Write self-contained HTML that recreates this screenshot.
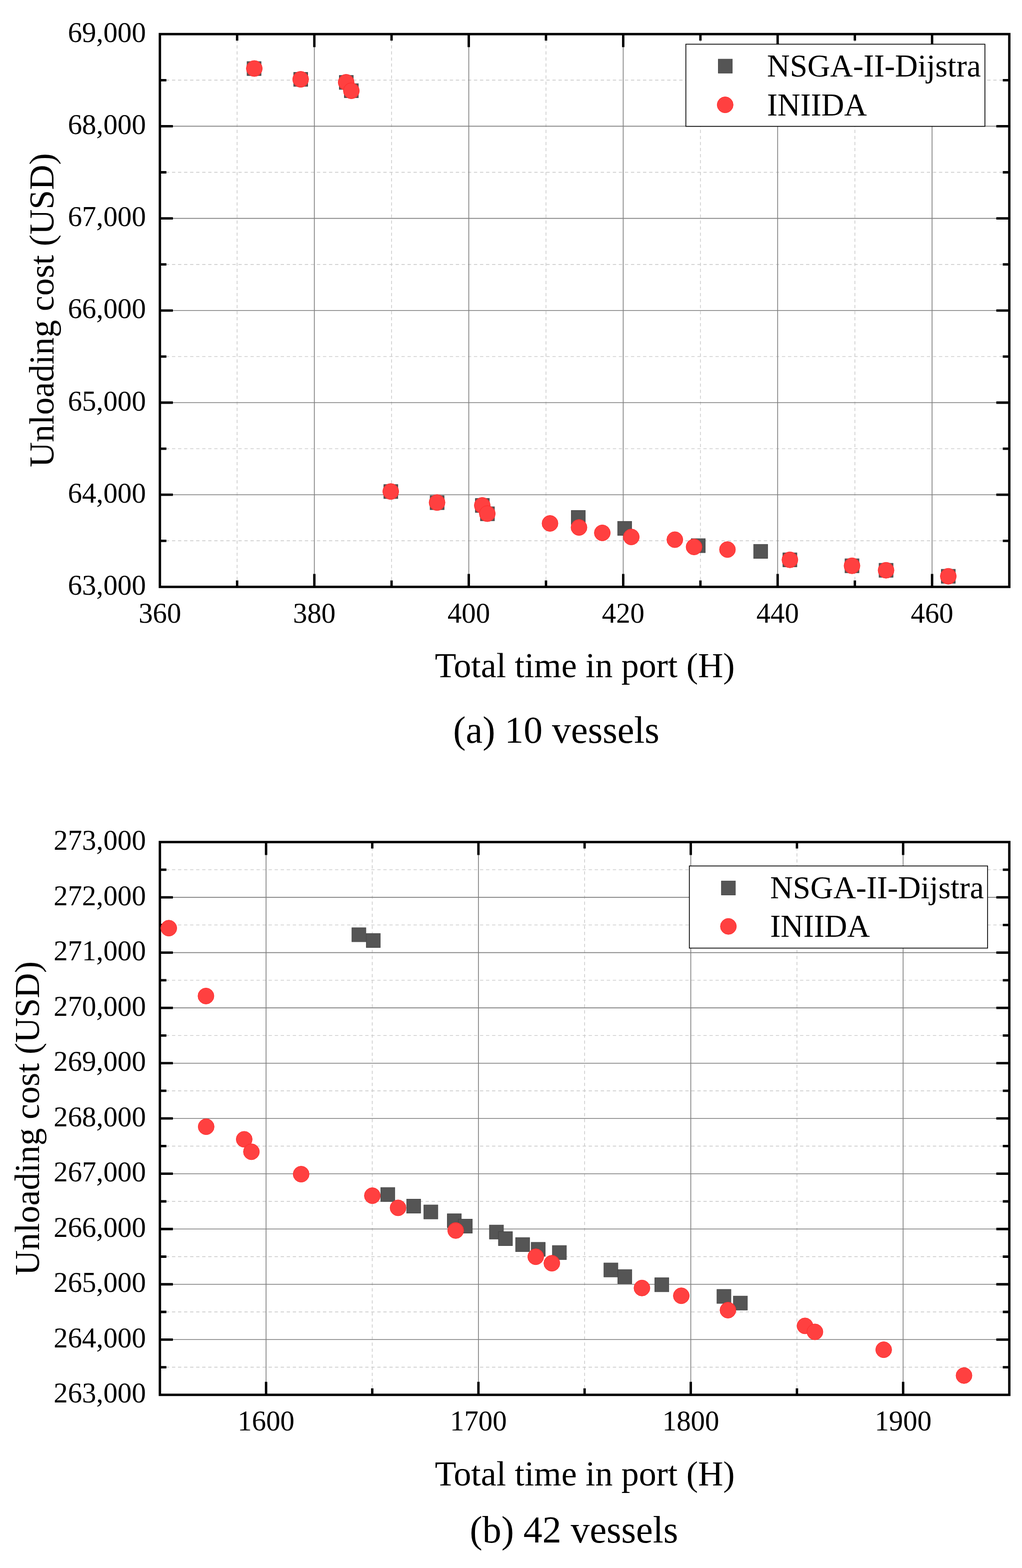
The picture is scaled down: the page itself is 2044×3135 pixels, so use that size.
<!DOCTYPE html>
<html><head><meta charset="utf-8"><title>Pareto fronts</title><style>
html,body{margin:0;padding:0;background:#fff;}
svg{display:block;}
text{font-family:'Liberation Serif', 'Times New Roman', serif;fill:#000;}
.tk{font-size:56.8px;}
.lg{font-size:63.1px;}
.at{font-size:69.8px;}
.cap{font-size:75.8px;}
</style></head><body>
<svg width="2044" height="3135" viewBox="0 0 2044 3135">
<rect width="2044" height="3135" fill="#fff"/>
<line x1="474.24" y1="68.2" x2="474.24" y2="1173.4" stroke="#c8c8c8" stroke-width="1.4" stroke-dasharray="6.5 5.578" stroke-dashoffset="1.88"/>
<line x1="783.11" y1="68.2" x2="783.11" y2="1173.4" stroke="#c8c8c8" stroke-width="1.4" stroke-dasharray="6.5 5.578" stroke-dashoffset="1.88"/>
<line x1="1091.98" y1="68.2" x2="1091.98" y2="1173.4" stroke="#c8c8c8" stroke-width="1.4" stroke-dasharray="6.5 5.578" stroke-dashoffset="1.88"/>
<line x1="1400.85" y1="68.2" x2="1400.85" y2="1173.4" stroke="#c8c8c8" stroke-width="1.4" stroke-dasharray="6.5 5.578" stroke-dashoffset="1.88"/>
<line x1="1709.73" y1="68.2" x2="1709.73" y2="1173.4" stroke="#c8c8c8" stroke-width="1.4" stroke-dasharray="6.5 5.578" stroke-dashoffset="1.88"/>
<line x1="319.8" y1="1081.3" x2="2018.6" y2="1081.3" stroke="#c8c8c8" stroke-width="1.4" stroke-dasharray="6.6 5.478"/>
<line x1="319.8" y1="897.1" x2="2018.6" y2="897.1" stroke="#c8c8c8" stroke-width="1.4" stroke-dasharray="6.6 5.478"/>
<line x1="319.8" y1="712.9" x2="2018.6" y2="712.9" stroke="#c8c8c8" stroke-width="1.4" stroke-dasharray="6.6 5.478"/>
<line x1="319.8" y1="528.7" x2="2018.6" y2="528.7" stroke="#c8c8c8" stroke-width="1.4" stroke-dasharray="6.6 5.478"/>
<line x1="319.8" y1="344.5" x2="2018.6" y2="344.5" stroke="#c8c8c8" stroke-width="1.4" stroke-dasharray="6.6 5.478"/>
<line x1="319.8" y1="160.3" x2="2018.6" y2="160.3" stroke="#c8c8c8" stroke-width="1.4" stroke-dasharray="6.6 5.478"/>
<line x1="628.67" y1="68.2" x2="628.67" y2="1173.4" stroke="#808080" stroke-width="1.6"/>
<line x1="937.55" y1="68.2" x2="937.55" y2="1173.4" stroke="#808080" stroke-width="1.6"/>
<line x1="1246.42" y1="68.2" x2="1246.42" y2="1173.4" stroke="#808080" stroke-width="1.6"/>
<line x1="1555.29" y1="68.2" x2="1555.29" y2="1173.4" stroke="#808080" stroke-width="1.6"/>
<line x1="1864.16" y1="68.2" x2="1864.16" y2="1173.4" stroke="#808080" stroke-width="1.6"/>
<line x1="319.8" y1="989.2" x2="2018.6" y2="989.2" stroke="#808080" stroke-width="1.6"/>
<line x1="319.8" y1="805" x2="2018.6" y2="805" stroke="#808080" stroke-width="1.6"/>
<line x1="319.8" y1="620.8" x2="2018.6" y2="620.8" stroke="#808080" stroke-width="1.6"/>
<line x1="319.8" y1="436.6" x2="2018.6" y2="436.6" stroke="#808080" stroke-width="1.6"/>
<line x1="319.8" y1="252.4" x2="2018.6" y2="252.4" stroke="#808080" stroke-width="1.6"/>
<path d="M474.24 68.2V81.2M474.24 1173.4V1160.4M628.67 68.2V94.2M628.67 1173.4V1147.4M783.11 68.2V81.2M783.11 1173.4V1160.4M937.55 68.2V94.2M937.55 1173.4V1147.4M1091.98 68.2V81.2M1091.98 1173.4V1160.4M1246.42 68.2V94.2M1246.42 1173.4V1147.4M1400.85 68.2V81.2M1400.85 1173.4V1160.4M1555.29 68.2V94.2M1555.29 1173.4V1147.4M1709.73 68.2V81.2M1709.73 1173.4V1160.4M1864.16 68.2V94.2M1864.16 1173.4V1147.4M319.8 1081.3H332.8M2018.6 1081.3H2005.6M319.8 989.2H345.8M2018.6 989.2H1992.6M319.8 897.1H332.8M2018.6 897.1H2005.6M319.8 805H345.8M2018.6 805H1992.6M319.8 712.9H332.8M2018.6 712.9H2005.6M319.8 620.8H345.8M2018.6 620.8H1992.6M319.8 528.7H332.8M2018.6 528.7H2005.6M319.8 436.6H345.8M2018.6 436.6H1992.6M319.8 344.5H332.8M2018.6 344.5H2005.6M319.8 252.4H345.8M2018.6 252.4H1992.6M319.8 160.3H332.8M2018.6 160.3H2005.6" stroke="#000" stroke-width="4.8" fill="none"/>
<rect x="319.8" y="68.2" width="1698.8" height="1105.2" fill="none" stroke="#000" stroke-width="4.8"/>
<rect x="494.1" y="123.1" width="28" height="28" fill="#555555" stroke="#444444" stroke-width="1"/>
<rect x="587.4" y="144.7" width="28" height="28" fill="#555555" stroke="#444444" stroke-width="1"/>
<rect x="678.6" y="150.8" width="28" height="28" fill="#555555" stroke="#444444" stroke-width="1"/>
<rect x="688.7" y="167.3" width="28" height="28" fill="#555555" stroke="#444444" stroke-width="1"/>
<rect x="767.7" y="968.8" width="28" height="28" fill="#555555" stroke="#444444" stroke-width="1"/>
<rect x="860.2" y="991" width="28" height="28" fill="#555555" stroke="#444444" stroke-width="1"/>
<rect x="950.7" y="996.6" width="28" height="28" fill="#555555" stroke="#444444" stroke-width="1"/>
<rect x="960.9" y="1013.2" width="28" height="28" fill="#555555" stroke="#444444" stroke-width="1"/>
<rect x="1142.6" y="1020.6" width="28" height="28" fill="#555555" stroke="#444444" stroke-width="1"/>
<rect x="1235.3" y="1042.4" width="28" height="28" fill="#555555" stroke="#444444" stroke-width="1"/>
<rect x="1382.5" y="1077" width="28" height="28" fill="#555555" stroke="#444444" stroke-width="1"/>
<rect x="1507.3" y="1088.4" width="28" height="28" fill="#555555" stroke="#444444" stroke-width="1"/>
<rect x="1565.8" y="1105.3" width="28" height="28" fill="#555555" stroke="#444444" stroke-width="1"/>
<rect x="1690" y="1117.2" width="28" height="28" fill="#555555" stroke="#444444" stroke-width="1"/>
<rect x="1758.1" y="1126.2" width="28" height="28" fill="#555555" stroke="#444444" stroke-width="1"/>
<rect x="1882.6" y="1138.2" width="28" height="28" fill="#555555" stroke="#444444" stroke-width="1"/>
<circle cx="508.6" cy="137" r="16" fill="#ff4040" stroke="#ff2a2a" stroke-width="1"/>
<circle cx="601.3" cy="158.6" r="16" fill="#ff4040" stroke="#ff2a2a" stroke-width="1"/>
<circle cx="692.3" cy="164.5" r="16" fill="#ff4040" stroke="#ff2a2a" stroke-width="1"/>
<circle cx="702.7" cy="181.5" r="16" fill="#ff4040" stroke="#ff2a2a" stroke-width="1"/>
<circle cx="781.5" cy="982.7" r="16" fill="#ff4040" stroke="#ff2a2a" stroke-width="1"/>
<circle cx="874.1" cy="1004.8" r="16" fill="#ff4040" stroke="#ff2a2a" stroke-width="1"/>
<circle cx="964.5" cy="1010.5" r="16" fill="#ff4040" stroke="#ff2a2a" stroke-width="1"/>
<circle cx="974.6" cy="1027" r="16" fill="#ff4040" stroke="#ff2a2a" stroke-width="1"/>
<circle cx="1100" cy="1046.5" r="16" fill="#ff4040" stroke="#ff2a2a" stroke-width="1"/>
<circle cx="1158" cy="1054.6" r="16" fill="#ff4040" stroke="#ff2a2a" stroke-width="1"/>
<circle cx="1204.6" cy="1065.4" r="16" fill="#ff4040" stroke="#ff2a2a" stroke-width="1"/>
<circle cx="1262.6" cy="1073.6" r="16" fill="#ff4040" stroke="#ff2a2a" stroke-width="1"/>
<circle cx="1349.7" cy="1079" r="16" fill="#ff4040" stroke="#ff2a2a" stroke-width="1"/>
<circle cx="1388.1" cy="1093.5" r="16" fill="#ff4040" stroke="#ff2a2a" stroke-width="1"/>
<circle cx="1454.9" cy="1098.8" r="16" fill="#ff4040" stroke="#ff2a2a" stroke-width="1"/>
<circle cx="1579.8" cy="1119.3" r="16" fill="#ff4040" stroke="#ff2a2a" stroke-width="1"/>
<circle cx="1704" cy="1131.2" r="16" fill="#ff4040" stroke="#ff2a2a" stroke-width="1"/>
<circle cx="1772.1" cy="1140.2" r="16" fill="#ff4040" stroke="#ff2a2a" stroke-width="1"/>
<circle cx="1896.6" cy="1152.2" r="16" fill="#ff4040" stroke="#ff2a2a" stroke-width="1"/>
<text x="291.9" y="1189" text-anchor="end" class="tk">63,000</text>
<text x="291.9" y="1004.8" text-anchor="end" class="tk">64,000</text>
<text x="291.9" y="820.6" text-anchor="end" class="tk">65,000</text>
<text x="291.9" y="636.4" text-anchor="end" class="tk">66,000</text>
<text x="291.9" y="452.2" text-anchor="end" class="tk">67,000</text>
<text x="291.9" y="268" text-anchor="end" class="tk">68,000</text>
<text x="291.9" y="83.8" text-anchor="end" class="tk">69,000</text>
<text x="319.8" y="1244.7" text-anchor="middle" class="tk">360</text>
<text x="628.67" y="1244.7" text-anchor="middle" class="tk">380</text>
<text x="937.55" y="1244.7" text-anchor="middle" class="tk">400</text>
<text x="1246.42" y="1244.7" text-anchor="middle" class="tk">420</text>
<text x="1555.29" y="1244.7" text-anchor="middle" class="tk">440</text>
<text x="1864.16" y="1244.7" text-anchor="middle" class="tk">460</text>
<rect x="1371.7" y="88.4" width="598.1" height="164.2" fill="#fff" stroke="#000" stroke-width="1.6"/>
<rect x="1436.6" y="118.2" width="28" height="28" fill="#555555" stroke="#444444" stroke-width="1"/>
<circle cx="1450.3" cy="209.6" r="16" fill="#ff4040" stroke="#ff2a2a" stroke-width="1"/>
<text x="1534.1" y="153" class="lg">NSGA-II-Dijstra</text>
<text x="1534.1" y="230.5" class="lg">INIIDA</text>
<text transform="translate(106.9 934.3) rotate(-90)" class="at">Unloading cost (USD)</text>
<text x="869.7" y="1354" class="at">Total time in port (H)</text>
<text x="906.3" y="1485.2" class="cap">(a) 10 vessels</text>
<line x1="744.5" y1="1683.6" x2="744.5" y2="2788.8" stroke="#c8c8c8" stroke-width="1.4" stroke-dasharray="6.5 5.578" stroke-dashoffset="1.88"/>
<line x1="1169.2" y1="1683.6" x2="1169.2" y2="2788.8" stroke="#c8c8c8" stroke-width="1.4" stroke-dasharray="6.5 5.578" stroke-dashoffset="1.88"/>
<line x1="1593.9" y1="1683.6" x2="1593.9" y2="2788.8" stroke="#c8c8c8" stroke-width="1.4" stroke-dasharray="6.5 5.578" stroke-dashoffset="1.88"/>
<line x1="319.8" y1="2733.54" x2="2018.6" y2="2733.54" stroke="#c8c8c8" stroke-width="1.4" stroke-dasharray="6.6 5.478"/>
<line x1="319.8" y1="2623.02" x2="2018.6" y2="2623.02" stroke="#c8c8c8" stroke-width="1.4" stroke-dasharray="6.6 5.478"/>
<line x1="319.8" y1="2512.5" x2="2018.6" y2="2512.5" stroke="#c8c8c8" stroke-width="1.4" stroke-dasharray="6.6 5.478"/>
<line x1="319.8" y1="2401.98" x2="2018.6" y2="2401.98" stroke="#c8c8c8" stroke-width="1.4" stroke-dasharray="6.6 5.478"/>
<line x1="319.8" y1="2291.46" x2="2018.6" y2="2291.46" stroke="#c8c8c8" stroke-width="1.4" stroke-dasharray="6.6 5.478"/>
<line x1="319.8" y1="2180.94" x2="2018.6" y2="2180.94" stroke="#c8c8c8" stroke-width="1.4" stroke-dasharray="6.6 5.478"/>
<line x1="319.8" y1="2070.42" x2="2018.6" y2="2070.42" stroke="#c8c8c8" stroke-width="1.4" stroke-dasharray="6.6 5.478"/>
<line x1="319.8" y1="1959.9" x2="2018.6" y2="1959.9" stroke="#c8c8c8" stroke-width="1.4" stroke-dasharray="6.6 5.478"/>
<line x1="319.8" y1="1849.38" x2="2018.6" y2="1849.38" stroke="#c8c8c8" stroke-width="1.4" stroke-dasharray="6.6 5.478"/>
<line x1="319.8" y1="1738.86" x2="2018.6" y2="1738.86" stroke="#c8c8c8" stroke-width="1.4" stroke-dasharray="6.6 5.478"/>
<line x1="532.15" y1="1683.6" x2="532.15" y2="2788.8" stroke="#808080" stroke-width="1.6"/>
<line x1="956.85" y1="1683.6" x2="956.85" y2="2788.8" stroke="#808080" stroke-width="1.6"/>
<line x1="1381.55" y1="1683.6" x2="1381.55" y2="2788.8" stroke="#808080" stroke-width="1.6"/>
<line x1="1806.25" y1="1683.6" x2="1806.25" y2="2788.8" stroke="#808080" stroke-width="1.6"/>
<line x1="319.8" y1="2678.28" x2="2018.6" y2="2678.28" stroke="#808080" stroke-width="1.6"/>
<line x1="319.8" y1="2567.76" x2="2018.6" y2="2567.76" stroke="#808080" stroke-width="1.6"/>
<line x1="319.8" y1="2457.24" x2="2018.6" y2="2457.24" stroke="#808080" stroke-width="1.6"/>
<line x1="319.8" y1="2346.72" x2="2018.6" y2="2346.72" stroke="#808080" stroke-width="1.6"/>
<line x1="319.8" y1="2236.2" x2="2018.6" y2="2236.2" stroke="#808080" stroke-width="1.6"/>
<line x1="319.8" y1="2125.68" x2="2018.6" y2="2125.68" stroke="#808080" stroke-width="1.6"/>
<line x1="319.8" y1="2015.16" x2="2018.6" y2="2015.16" stroke="#808080" stroke-width="1.6"/>
<line x1="319.8" y1="1904.64" x2="2018.6" y2="1904.64" stroke="#808080" stroke-width="1.6"/>
<line x1="319.8" y1="1794.12" x2="2018.6" y2="1794.12" stroke="#808080" stroke-width="1.6"/>
<path d="M532.15 1683.6V1709.6M532.15 2788.8V2762.8M744.5 1683.6V1696.6M744.5 2788.8V2775.8M956.85 1683.6V1709.6M956.85 2788.8V2762.8M1169.2 1683.6V1696.6M1169.2 2788.8V2775.8M1381.55 1683.6V1709.6M1381.55 2788.8V2762.8M1593.9 1683.6V1696.6M1593.9 2788.8V2775.8M1806.25 1683.6V1709.6M1806.25 2788.8V2762.8M319.8 2733.54H332.8M2018.6 2733.54H2005.6M319.8 2678.28H345.8M2018.6 2678.28H1992.6M319.8 2623.02H332.8M2018.6 2623.02H2005.6M319.8 2567.76H345.8M2018.6 2567.76H1992.6M319.8 2512.5H332.8M2018.6 2512.5H2005.6M319.8 2457.24H345.8M2018.6 2457.24H1992.6M319.8 2401.98H332.8M2018.6 2401.98H2005.6M319.8 2346.72H345.8M2018.6 2346.72H1992.6M319.8 2291.46H332.8M2018.6 2291.46H2005.6M319.8 2236.2H345.8M2018.6 2236.2H1992.6M319.8 2180.94H332.8M2018.6 2180.94H2005.6M319.8 2125.68H345.8M2018.6 2125.68H1992.6M319.8 2070.42H332.8M2018.6 2070.42H2005.6M319.8 2015.16H345.8M2018.6 2015.16H1992.6M319.8 1959.9H332.8M2018.6 1959.9H2005.6M319.8 1904.64H345.8M2018.6 1904.64H1992.6M319.8 1849.38H332.8M2018.6 1849.38H2005.6M319.8 1794.12H345.8M2018.6 1794.12H1992.6M319.8 1738.86H332.8M2018.6 1738.86H2005.6" stroke="#000" stroke-width="4.8" fill="none"/>
<rect x="319.8" y="1683.6" width="1698.8" height="1105.2" fill="none" stroke="#000" stroke-width="4.8"/>
<rect x="703.8" y="1854.9" width="28" height="28" fill="#555555" stroke="#444444" stroke-width="1"/>
<rect x="732.6" y="1866.4" width="28" height="28" fill="#555555" stroke="#444444" stroke-width="1"/>
<rect x="761.6" y="2374.3" width="28" height="28" fill="#555555" stroke="#444444" stroke-width="1"/>
<rect x="813.3" y="2397.5" width="28" height="28" fill="#555555" stroke="#444444" stroke-width="1"/>
<rect x="847.7" y="2409.1" width="28" height="28" fill="#555555" stroke="#444444" stroke-width="1"/>
<rect x="894.6" y="2426.8" width="28" height="28" fill="#555555" stroke="#444444" stroke-width="1"/>
<rect x="916.6" y="2437.5" width="28" height="28" fill="#555555" stroke="#444444" stroke-width="1"/>
<rect x="978.9" y="2449.3" width="28" height="28" fill="#555555" stroke="#444444" stroke-width="1"/>
<rect x="996.9" y="2462.5" width="28" height="28" fill="#555555" stroke="#444444" stroke-width="1"/>
<rect x="1031.2" y="2474.4" width="28" height="28" fill="#555555" stroke="#444444" stroke-width="1"/>
<rect x="1062.4" y="2483.9" width="28" height="28" fill="#555555" stroke="#444444" stroke-width="1"/>
<rect x="1104.8" y="2490.3" width="28" height="28" fill="#555555" stroke="#444444" stroke-width="1"/>
<rect x="1207.8" y="2525.1" width="28" height="28" fill="#555555" stroke="#444444" stroke-width="1"/>
<rect x="1235.6" y="2538.4" width="28" height="28" fill="#555555" stroke="#444444" stroke-width="1"/>
<rect x="1309.6" y="2554.7" width="28" height="28" fill="#555555" stroke="#444444" stroke-width="1"/>
<rect x="1433.9" y="2578" width="28" height="28" fill="#555555" stroke="#444444" stroke-width="1"/>
<rect x="1466.8" y="2591.3" width="28" height="28" fill="#555555" stroke="#444444" stroke-width="1"/>
<circle cx="337.6" cy="1855.7" r="16" fill="#ff4040" stroke="#ff2a2a" stroke-width="1"/>
<circle cx="411.9" cy="1991.4" r="16" fill="#ff4040" stroke="#ff2a2a" stroke-width="1"/>
<circle cx="412.3" cy="2252.7" r="16" fill="#ff4040" stroke="#ff2a2a" stroke-width="1"/>
<circle cx="488.4" cy="2277.9" r="16" fill="#ff4040" stroke="#ff2a2a" stroke-width="1"/>
<circle cx="502.8" cy="2302.8" r="16" fill="#ff4040" stroke="#ff2a2a" stroke-width="1"/>
<circle cx="602.3" cy="2347.6" r="16" fill="#ff4040" stroke="#ff2a2a" stroke-width="1"/>
<circle cx="744.7" cy="2390.6" r="16" fill="#ff4040" stroke="#ff2a2a" stroke-width="1"/>
<circle cx="796.1" cy="2414.9" r="16" fill="#ff4040" stroke="#ff2a2a" stroke-width="1"/>
<circle cx="911.4" cy="2460.3" r="16" fill="#ff4040" stroke="#ff2a2a" stroke-width="1"/>
<circle cx="1071.5" cy="2512.7" r="16" fill="#ff4040" stroke="#ff2a2a" stroke-width="1"/>
<circle cx="1103.7" cy="2525.7" r="16" fill="#ff4040" stroke="#ff2a2a" stroke-width="1"/>
<circle cx="1283.9" cy="2575.2" r="16" fill="#ff4040" stroke="#ff2a2a" stroke-width="1"/>
<circle cx="1362.6" cy="2590.7" r="16" fill="#ff4040" stroke="#ff2a2a" stroke-width="1"/>
<circle cx="1455.9" cy="2619.5" r="16" fill="#ff4040" stroke="#ff2a2a" stroke-width="1"/>
<circle cx="1610" cy="2650.9" r="16" fill="#ff4040" stroke="#ff2a2a" stroke-width="1"/>
<circle cx="1629.9" cy="2662.9" r="16" fill="#ff4040" stroke="#ff2a2a" stroke-width="1"/>
<circle cx="1767.4" cy="2698.6" r="16" fill="#ff4040" stroke="#ff2a2a" stroke-width="1"/>
<circle cx="1928" cy="2750.2" r="16" fill="#ff4040" stroke="#ff2a2a" stroke-width="1"/>
<text x="291.9" y="2804.4" text-anchor="end" class="tk">263,000</text>
<text x="291.9" y="2693.88" text-anchor="end" class="tk">264,000</text>
<text x="291.9" y="2583.36" text-anchor="end" class="tk">265,000</text>
<text x="291.9" y="2472.84" text-anchor="end" class="tk">266,000</text>
<text x="291.9" y="2362.32" text-anchor="end" class="tk">267,000</text>
<text x="291.9" y="2251.8" text-anchor="end" class="tk">268,000</text>
<text x="291.9" y="2141.28" text-anchor="end" class="tk">269,000</text>
<text x="291.9" y="2030.76" text-anchor="end" class="tk">270,000</text>
<text x="291.9" y="1920.24" text-anchor="end" class="tk">271,000</text>
<text x="291.9" y="1809.72" text-anchor="end" class="tk">272,000</text>
<text x="291.9" y="1699.2" text-anchor="end" class="tk">273,000</text>
<text x="532.15" y="2860.1" text-anchor="middle" class="tk">1600</text>
<text x="956.85" y="2860.1" text-anchor="middle" class="tk">1700</text>
<text x="1381.55" y="2860.1" text-anchor="middle" class="tk">1800</text>
<text x="1806.25" y="2860.1" text-anchor="middle" class="tk">1900</text>
<rect x="1378.7" y="1731.4" width="596.5" height="164.2" fill="#fff" stroke="#000" stroke-width="1.6"/>
<rect x="1442.8" y="1761.4" width="28" height="28" fill="#555555" stroke="#444444" stroke-width="1"/>
<circle cx="1456.8" cy="1852.2" r="16" fill="#ff4040" stroke="#ff2a2a" stroke-width="1"/>
<text x="1540.2" y="1795.7" class="lg">NSGA-II-Dijstra</text>
<text x="1540.2" y="1873.2" class="lg">INIIDA</text>
<text transform="translate(78.3 2550.1) rotate(-90)" class="at">Unloading cost (USD)</text>
<text x="869.7" y="2969.5" class="at">Total time in port (H)</text>
<text x="939.5" y="3084.4" class="cap">(b) 42 vessels</text>
</svg></body></html>
